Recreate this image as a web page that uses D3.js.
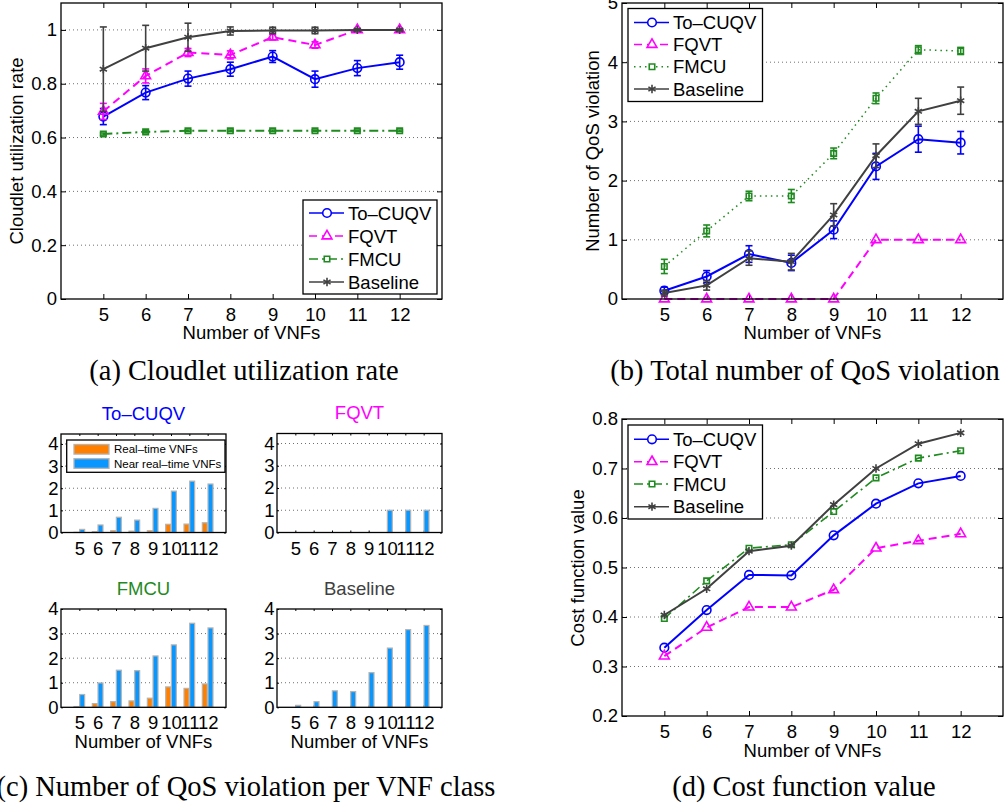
<!DOCTYPE html>
<html><head><meta charset="utf-8">
<script src="https://cdn.jsdelivr.net/npm/d3@7"></script>
<style>
body{margin:0;background:#fff;}
svg{display:block;}
</style>
</head><body>
<script>
// ---------------- DATA ----------------
const vnfs = [5, 6, 7, 8, 9, 10, 11, 12];
const seriesNames = ["To–CUQV", "FQVT", "FMCU", "Baseline"];

// (a) Cloudlet utilization rate (mean, error)
const utilToCUQV    = [0.678, 0.767, 0.819, 0.854, 0.901, 0.817, 0.858, 0.880];
const utilToCUQVErr = [0.030, 0.026, 0.028, 0.026, 0.022, 0.030, 0.028, 0.026];
const utilFQVT      = [0.697, 0.829, 0.916, 0.907, 0.973, 0.944, 1.000, 1.000];
const utilFQVTErr   = [0.030, 0.026, 0.015, 0.015, 0.010, 0.012, 0.003, 0.003];
const utilFMCU      = [0.613, 0.621, 0.625, 0.625, 0.625, 0.625, 0.625, 0.625];
const utilFMCUErr   = [0.004, 0.004, 0.003, 0.003, 0.003, 0.003, 0.003, 0.003];
const utilBase      = [0.854, 0.932, 0.973, 0.996, 0.998, 0.998, 1.000, 1.000];
const utilBaseErr   = [0.157, 0.085, 0.052, 0.015, 0.012, 0.012, 0.003, 0.003];

// (b) Total number of QoS violation (mean, error)
const qosToCUQV    = [0.14, 0.38, 0.76, 0.61, 1.17, 2.24, 2.70, 2.64];
const qosToCUQVErr = [0.06, 0.10, 0.14, 0.13, 0.15, 0.22, 0.22, 0.19];
const qosFQVT      = [0, 0, 0, 0, 0, 1, 1, 1];
const qosFQVTErr   = [0, 0, 0, 0, 0, 0, 0, 0];
const qosFMCU      = [0.55, 1.15, 1.74, 1.74, 2.46, 3.39, 4.21, 4.19];
const qosFMCUErr   = [0.12, 0.10, 0.08, 0.11, 0.09, 0.09, 0.07, 0.06];
const qosBase      = [0.10, 0.23, 0.69, 0.63, 1.42, 2.42, 3.17, 3.35];
const qosBaseErr   = [0.05, 0.08, 0.12, 0.14, 0.19, 0.20, 0.22, 0.23];

// (c) QoS violation per VNF class
const classNames = ["Real–time VNFs", "Near real–time VNFs"];
const rtToCUQV   = [0.01, 0.04, 0.08, 0.06, 0.08, 0.37, 0.38, 0.44];
const nrtToCUQV  = [0.14, 0.34, 0.69, 0.56, 1.09, 1.87, 2.32, 2.19];
const rtFQVT     = [0, 0, 0, 0, 0, 0, 0, 0];
const nrtFQVT    = [0, 0, 0, 0, 0, 1, 1, 1];
const rtFMCU     = [0.03, 0.15, 0.23, 0.26, 0.37, 0.83, 0.77, 0.95];
const nrtFMCU    = [0.52, 0.99, 1.51, 1.49, 2.09, 2.54, 3.42, 3.23];
const rtBase     = [0, 0, 0, 0, 0, 0, 0, 0];
const nrtBase    = [0.08, 0.23, 0.67, 0.64, 1.41, 2.41, 3.16, 3.33];

// (d) Cost function value
const costToCUQV = [0.338, 0.414, 0.485, 0.484, 0.565, 0.629, 0.670, 0.685];
const costFQVT   = [0.321, 0.379, 0.420, 0.420, 0.455, 0.539, 0.554, 0.568];
const costFMCU   = [0.397, 0.473, 0.539, 0.546, 0.613, 0.681, 0.721, 0.736];
const costBase   = [0.404, 0.457, 0.533, 0.544, 0.627, 0.700, 0.750, 0.772];

// tick labels
const ticksUtil = [0, 0.2, 0.4, 0.6, 0.8, 1];
const ticksQoS  = [0, 1, 2, 3, 4, 5];
const ticksCost = [0.2, 0.3, 0.4, 0.5, 0.6, 0.7, 0.8];
const ticksClass = [0, 1, 2, 3, 4];

const captions = ["(a) Cloudlet utilization rate", "(b) Total number of QoS violation",
                  "(c) Number of QoS violation per VNF class", "(d) Cost function value"];
const xLabel = "Number of VNFs";

// ---------------- STYLES ----------------
const FONT = "'Liberation Sans', Arial, Helvetica, sans-serif";
const SERIF = "'Liberation Serif', 'Times New Roman', Times, serif";
const FS = 18.5;
const colors = ["#0000ff", "#ff00ff", "#1f8a1f", "#404040"];
const symAst = d3.symbolAsterisk || d3.symbolCross;
const styleA = [
  {color: colors[0], dash: null, sym: d3.symbolCircle, size: 58, fill: "none"},
  {color: colors[1], dash: "8,5", sym: d3.symbolTriangle, size: 42, fill: "none"},
  {color: colors[2], dash: "9,4,2,4", sym: d3.symbolSquare, size: 30, fill: "none"},
  {color: colors[3], dash: null, sym: symAst, size: 48, fill: "none"}
];
const styleB = styleA.map((s, i) => i === 2 ? Object.assign({}, s, {dash: "1.5,4"}) : s);
const barColors = ["#ff8000", "#0a96ff"];

const svg = d3.select("body").append("svg").attr("width", 1006).attr("height", 808);
svg.append("rect").attr("width", 1006).attr("height", 808).attr("fill", "#fff");

function makeAxes(c) {
  const x = d3.scaleLinear().domain(c.xDomain).range([c.l, c.r]);
  const y = d3.scaleLinear().domain(c.yDomain).range([c.b, c.t]);
  const g = svg.append("g");
  const inner = c.yTicks.filter(v => v > c.yDomain[0] + 1e-9 && v < c.yDomain[1] - 1e-9);
  g.append("g").selectAll("line").data(inner).join("line")
    .attr("x1", c.l).attr("x2", c.r).attr("y1", d => y(d)).attr("y2", d => y(d))
    .attr("stroke", "#707070").attr("stroke-width", 1).attr("stroke-dasharray", "1,3");
  const tl = c.tickLen;
  const st = sel => sel.attr("font-family", FONT).attr("font-size", FS)
    .call(s => s.select(".domain").remove())
    .call(s => s.selectAll("line").attr("stroke", "#000").attr("stroke-width", 1))
    .call(s => s.selectAll("text").attr("fill", "#000"));
  g.append("g").attr("transform", `translate(0,${c.b})`)
    .call(d3.axisBottom(x).tickValues(vnfs).tickSize(-tl).tickPadding(c.xPad).tickFormat(d3.format("d"))).call(st);
  g.append("g").attr("transform", `translate(0,${c.t})`)
    .call(d3.axisTop(x).tickValues(vnfs).tickSize(-tl).tickFormat("")).call(st);
  g.append("g").attr("transform", `translate(${c.l},0)`)
    .call(d3.axisLeft(y).tickValues(c.yTicks).tickSize(-tl).tickPadding(c.yPad).tickFormat(d => String(+d.toFixed(2)))).call(st);
  g.append("g").attr("transform", `translate(${c.r},0)`)
    .call(d3.axisRight(y).tickValues(c.yTicks).tickSize(-tl).tickFormat("")).call(st);
  const plot = svg.append("g");
  return {x, y, c, plot};
}

function box(A) {
  const c = A.c;
  svg.append("rect").attr("x", c.l).attr("y", c.t).attr("width", c.r - c.l).attr("height", c.b - c.t)
    .attr("fill", "none").attr("stroke", "#000").attr("stroke-width", 1.3);
}

function drawSeries(A, ys, errs, s, lw) {
  const pts = vnfs.map((v, i) => ({x: v, y: ys[i], e: errs ? errs[i] : 0}));
  const line = d3.line().x(d => A.x(d.x)).y(d => A.y(d.y));
  const g = A.plot.append("g");
  g.append("path").datum(pts).attr("d", line).attr("fill", "none")
    .attr("stroke", s.color).attr("stroke-width", lw).attr("stroke-dasharray", s.dash);
  if (errs) {
    const cap = 3.5;
    const eb = g.selectAll("g.eb").data(pts.filter(d => d.e > 0)).join("g");
    eb.append("line").attr("x1", d => A.x(d.x)).attr("x2", d => A.x(d.x))
      .attr("y1", d => A.y(d.y - d.e)).attr("y2", d => A.y(d.y + d.e))
      .attr("stroke", s.color).attr("stroke-width", 1.6);
    [-1, 1].forEach(sg => {
      eb.append("line").attr("x1", d => A.x(d.x) - cap).attr("x2", d => A.x(d.x) + cap)
        .attr("y1", d => A.y(d.y + sg * d.e)).attr("y2", d => A.y(d.y + sg * d.e))
        .attr("stroke", s.color).attr("stroke-width", 1.6);
    });
  }
  g.selectAll("path.m").data(pts).join("path").attr("class", "m")
    .attr("d", d3.symbol(s.sym, s.size))
    .attr("transform", d => `translate(${A.x(d.x)},${A.y(d.y)})`)
    .attr("fill", s.fill).attr("stroke", s.color).attr("stroke-width", 1.6);
}

function legend(lx, ty, w, h, rowY, styles, lw) {
  const g = svg.append("g");
  g.append("rect").attr("x", lx).attr("y", ty).attr("width", w).attr("height", h)
    .attr("fill", "#fff").attr("stroke", "#000").attr("stroke-width", 1.3);
  seriesNames.forEach((n, i) => {
    const s = styles[i], yy = rowY[i];
    g.append("line").attr("x1", lx + 6).attr("x2", lx + 41).attr("y1", yy).attr("y2", yy)
      .attr("stroke", s.color).attr("stroke-width", lw).attr("stroke-dasharray", s.dash);
    g.append("path").attr("d", d3.symbol(s.sym, s.size)).attr("transform", `translate(${lx + 24},${yy})`)
      .attr("fill", "#fff").attr("stroke", s.color).attr("stroke-width", 1.6);
    g.append("text").attr("x", lx + 45).attr("y", yy + 6.6).attr("font-family", FONT).attr("font-size", FS)
      .attr("fill", "#000").text(n);
  });
}

function text(x, y, str, opts = {}) {
  const t = svg.append("text").attr("x", x).attr("y", y).attr("text-anchor", opts.anchor || "middle")
    .attr("font-family", opts.font || FONT).attr("font-size", opts.size || FS).attr("fill", opts.color || "#000").text(str);
  if (opts.rotate) t.attr("transform", `rotate(-90,${x},${y})`);
  return t;
}

// ---------- (a) ----------
const A = makeAxes({l: 61, r: 442, t: 3, b: 299, xDomain: [4, 13], yDomain: [0, 1.1], yTicks: ticksUtil, tickLen: 5, xPad: 9, yPad: 4});
drawSeries(A, utilToCUQV, utilToCUQVErr, styleA[0], 2);
drawSeries(A, utilFQVT, utilFQVTErr, styleA[1], 2);
drawSeries(A, utilFMCU, utilFMCUErr, styleA[2], 2);
drawSeries(A, utilBase, utilBaseErr, styleA[3], 2);
box(A);
legend(303, 200, 134, 94, [213, 236, 259, 282], styleA, 1.5);
text(23, 151, "Cloudlet utilization rate", {rotate: true});
text(251.5, 339, xLabel);
text(244, 380, captions[0], {font: SERIF, size: 28.5});

// ---------- (b) ----------
const B = makeAxes({l: 622, r: 1003, t: 3, b: 299, xDomain: [4, 13], yDomain: [0, 5], yTicks: ticksQoS, tickLen: 5, xPad: 9, yPad: 4});
drawSeries(B, qosToCUQV, qosToCUQVErr, styleB[0], 2);
drawSeries(B, qosFQVT, qosFQVTErr, styleB[1], 2);
drawSeries(B, qosFMCU, qosFMCUErr, styleB[2], 1.5);
drawSeries(B, qosBase, qosBaseErr, styleB[3], 2);
box(B);
legend(628, 8.5, 134.5, 93, [22.5, 44.5, 66.7, 89], styleB, 1.5);
text(599, 151, "Number of QoS violation", {rotate: true});
text(812.5, 339, xLabel);
text(805, 380, captions[1], {font: SERIF, size: 28.5});

// ---------- (d) ----------
const D = makeAxes({l: 622, r: 1003, t: 419, b: 716, xDomain: [4, 13], yDomain: [0.2, 0.8], yTicks: ticksCost, tickLen: 5, xPad: 9, yPad: 4});
drawSeries(D, costToCUQV, null, styleA[0], 2);
drawSeries(D, costFQVT, null, styleA[1], 2);
drawSeries(D, costFMCU, null, styleA[2], 1.6);
drawSeries(D, costBase, null, styleA[3], 2);
box(D);
legend(628, 425, 134.5, 94, [439.3, 461.7, 484, 506.7], styleA, 1.5);
text(584, 568, "Cost function value", {rotate: true});
text(812.5, 757, xLabel);
text(804, 796, captions[3], {font: SERIF, size: 28.5});

// ---------- (c) ----------
const subplots = [
  {title: seriesNames[0], color: colors[0], rt: rtToCUQV, nrt: nrtToCUQV, l: 61, r: 226, t: 434, b: 532.5, ymax: 4.45, xlab: false},
  {title: seriesNames[1], color: colors[1], rt: rtFQVT, nrt: nrtFQVT, l: 277, r: 442, t: 433.5, b: 532.5, ymax: 4.45, xlab: false},
  {title: seriesNames[2], color: colors[2], rt: rtFMCU, nrt: nrtFMCU, l: 61, r: 226, t: 609, b: 707.3, ymax: 4, xlab: true},
  {title: seriesNames[3], color: colors[3], rt: rtBase, nrt: nrtBase, l: 277, r: 442, t: 609, b: 707.3, ymax: 4, xlab: true}
];
subplots.forEach((sp, k) => {
  const P = makeAxes({l: sp.l, r: sp.r, t: sp.t, b: sp.b, xDomain: [4, 13], yDomain: [0, sp.ymax], yTicks: ticksClass, tickLen: 2, xPad: 9, yPad: 2.5});
  const step = P.x(1) - P.x(0);
  const bw = 0.27 * step, off = 0.155 * step;
  [sp.rt, sp.nrt].forEach((vals, j) => {
    P.plot.append("g").selectAll("rect").data(vnfs.map((v, i) => ({x: v, y: vals[i]}))).join("rect")
      .attr("x", d => P.x(d.x) + (j === 0 ? -off : off) - bw / 2)
      .attr("width", bw)
      .attr("y", d => P.y(d.y))
      .attr("height", d => P.y(0) - P.y(d.y))
      .attr("fill", barColors[j]).attr("stroke", "#b4b4b4").attr("stroke-width", 1.2);
  });
  box(P);
  const cx = (sp.l + sp.r) / 2;
  text(cx, sp.t - 14.5, sp.title, {color: sp.color});
  if (sp.xlab) text(cx, sp.b + 41, xLabel);
  if (k === 0) {
    const g = svg.append("g");
    g.append("rect").attr("x", 66.7).attr("y", 440).attr("width", 158.3).attr("height", 32.3)
      .attr("fill", "#fff").attr("stroke", "#000").attr("stroke-width", 1.3);
    [449.3, 463.5].forEach((yy, j) => {
      g.append("rect").attr("x", 74).attr("y", yy - 4.8).attr("width", 35).attr("height", 9.6)
        .attr("fill", barColors[j]).attr("stroke", "#b4b4b4").attr("stroke-width", 1.3);
      g.append("text").attr("x", 114).attr("y", yy + 4).attr("font-family", FONT).attr("font-size", 11.5)
        .attr("fill", "#000").text(classNames[j]);
    });
  }
});
text(246, 796, captions[2], {font: SERIF, size: 28.5});
</script>
</body></html>
